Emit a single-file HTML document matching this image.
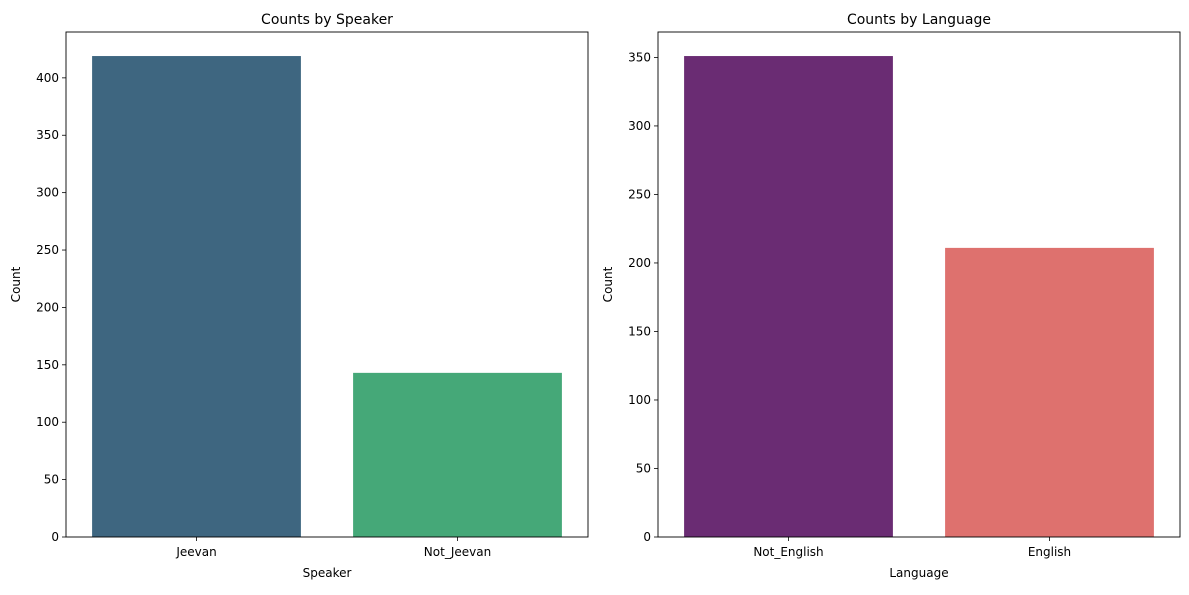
<!DOCTYPE html>
<html><head><meta charset="utf-8"><style>
body{margin:0;background:#fff;font-family:"Liberation Sans","DejaVu Sans",sans-serif}
svg text{font-family:"DejaVu Sans","Liberation Sans",sans-serif}
</style></head><body>
<svg id="c" width="1189" height="590" xmlns="http://www.w3.org/2000/svg"></svg>
<script>
const speakerCats = ["Jeevan","Not_Jeevan"];
const speakerVals = [419,143];
const speakerTicks = [0,50,100,150,200,250,300,350,400];
const langCats = ["Not_English","English"];
const langVals = [351,211];
const langTicks = [0,50,100,150,200,250,300,350];

const svg = document.getElementById('c');
const NS = "http://www.w3.org/2000/svg";
function mk(tag, attrs, parent){const e=document.createElementNS(NS,tag);for(const k in attrs)e.setAttribute(k,attrs[k]);(parent||svg).appendChild(e);return e;}

function panel(name, x0, x1, y0, y1, cats, vals, ticks, colors, title, xlabel){
  const g = mk('g',{});
  
  
  const ymax = Math.max(...vals)*1.05;
  const ys = v => y1 - v/ymax*(y1-y0);
  const bw = (x1-x0)/cats.length;
  cats.forEach((c,i)=>{
    const bx = x0 + bw*i + bw*0.1;
    const r = mk('rect',{x:bx,y:ys(vals[i]),width:bw*0.8,height:y1-ys(vals[i]),fill:colors[i]},g);
    
    
    const cx = x0 + bw*(i+0.5);
    mk('line',{x1:cx,x2:cx,y1:y1,y2:y1+4,stroke:'#000','stroke-width':0.8},g);
    const t = mk('text',{x:cx,y:y1+19,'text-anchor':'middle','font-size':12},g);
    t.textContent=c;
    
    
  });
  ticks.forEach(v=>{
    const y = ys(v);
    mk('line',{x1:x0-4,x2:x0,y1:y,y2:y,stroke:'#000','stroke-width':0.8},g);
    const t = mk('text',{x:x0-7,y:y+4,'text-anchor':'end','font-size':12},g);
    t.textContent=v;
    
    
  });
  const fr = mk('rect',{x:x0,y:y0,width:x1-x0,height:y1-y0,fill:'none',stroke:'#000','stroke-width':0.9},g);
  
  
  const tt = mk('text',{x:(x0+x1)/2,y:y0-8,'text-anchor':'middle','font-size':14},g);
  tt.textContent=title;
  
  
  const xl = mk('text',{x:(x0+x1)/2,y:y1+40,'text-anchor':'middle','font-size':12},g);
  xl.textContent=xlabel;
  
  
  const yl = mk('text',{x:0,y:0,'text-anchor':'middle','font-size':12,transform:`translate(${x0-46},${(y0+y1)/2}) rotate(-90)`},g);
  yl.textContent='Count';
  
  
}
panel('speaker',66,588,32,537,speakerCats,speakerVals,speakerTicks,['#3e6680','#45a878'],'Counts by Speaker','Speaker');
panel('language',658,1180,32,537,langCats,langVals,langTicks,['#6a2c73','#de716e'],'Counts by Language','Language');
</script>
</body></html>
